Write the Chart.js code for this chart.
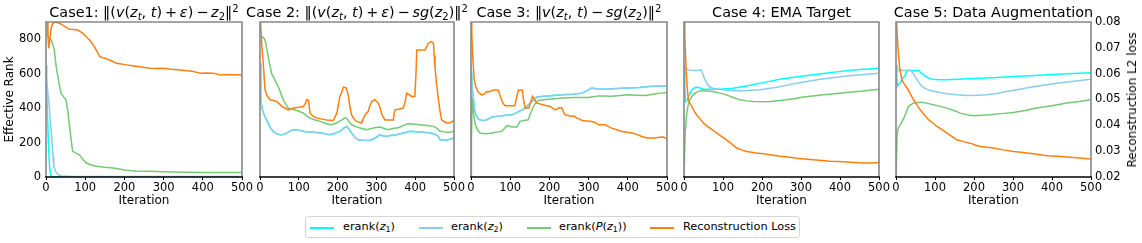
<!DOCTYPE html>
<html>
<head>
<meta charset="utf-8">
<script src="https://cdn.jsdelivr.net/npm/chart.js@4.4.1/dist/chart.umd.min.js"></script>
<style>
  body { margin: 0; background: #fff; font-family: "DejaVu Sans", sans-serif; color: #000; }
  #wrap { position: relative; width: 1142px; height: 243px; overflow: hidden; }
  #wrap canvas { position: absolute; top: 0; }
  .ttl { position: absolute; top: 4px; white-space: nowrap; font-size: 14.4px; line-height: 17px; transform: translateX(-50%); }
  .ttl .op { margin: 0 0.2em; }
  sub, sup { font-size: 70%; line-height: 0; position: relative; vertical-align: baseline; }
  sub { top: 0.3em; }
  sup { top: -0.5em; }
  #rlab { position: absolute; left: 1132px; top: 100px; font-size: 12px; white-space: nowrap; transform: translate(-50%, -50%) rotate(-90deg); }
  #legend { position: absolute; left: 305px; top: 216px; width: 495px; height: 22px; box-sizing: border-box; border: 1px solid #d6d6d6; border-radius: 3px; font-size: 11.3px; }
  #legend .h { position: absolute; top: 10px; width: 24px; height: 1.5px; }
  #legend .t { position: absolute; top: 3px; white-space: nowrap; line-height: 14px; }
</style>
</head>
<body>
<div id="wrap"></div>
<script>
// iteration / value pairs
// Case 1
var c1_z1 = [[0,650],[3,420],[6,200],[9,60],[12,10],[16,2],[30,1],[100,1],[500,1]];
var c1_z2 = [[0,650],[2,560],[4,506],[7,440],[9,390],[12,300],[15,216],[18,120],[20,62],[25,30],[30,14],[40,6],[60,4],[100,3],[300,3],[500,3]];
var c1_pz1 = [[0,834],[5,820],[10,805],[13,796],[17,770],[21,738],[26,641],[32,560],[38,487],[45,465],[51,448],[56,380],[60,294],[64,220],[68,149],[75,140],[85,129],[95,100],[103,81],[115,70],[128,62],[150,56],[171,52],[190,45],[205,39],[230,35],[265,33],[300,30],[359,27],[400,26],[450,26],[500,26]];
var c1_loss = [[0,0.085],[3,0.080],[5,0.0745],[7,0.0698],[10,0.0735],[13,0.0775],[17,0.0795],[22,0.0800],[30,0.0797],[37,0.0793],[43,0.0788],[50,0.0780],[60,0.0772],[70,0.0771],[81,0.0769],[88,0.0763],[94,0.0756],[103,0.0743],[111,0.0730],[120,0.0712],[128,0.0692],[133,0.0678],[137,0.0666],[150,0.0660],[162,0.0653],[171,0.0647],[180,0.0640],[192,0.0637],[205,0.0634],[220,0.0631],[239,0.0627],[252,0.0624],[265,0.0621],[282,0.0620],[299,0.0621],[320,0.0617],[342,0.0614],[360,0.0611],[376,0.0608],[385,0.0605],[393,0.0602],[410,0.0603],[427,0.0602],[444,0.0595],[460,0.0597],[480,0.0596],[500,0.0595]];

// Case 2
var c2_z1 = [[0,660],[2,448],[5,400],[9,371],[15,340],[21,313],[27,285],[34,265],[42,252],[52,245],[60,247],[69,255],[78,266],[86,274],[95,273],[103,270],[115,264],[129,261],[145,258],[159,255],[170,250],[180,245],[192,253],[206,265],[215,282],[223,294],[229,280],[236,255],[244,232],[253,216],[265,213],[284,212],[296,225],[309,245],[318,238],[326,236],[340,242],[352,245],[370,255],[387,265],[410,262],[430,259],[445,252],[455,245],[460,232],[464,216],[475,214],[485,216],[495,222],[500,226]];
var c2_z2 = [[0,660],[2,448],[5,400],[9,371],[15,340],[21,313],[27,285],[34,265],[42,252],[52,245],[60,247],[69,255],[78,266],[86,274],[95,273],[103,270],[115,264],[129,261],[145,258],[159,255],[170,250],[180,245],[192,253],[206,265],[215,282],[223,294],[229,280],[236,255],[244,232],[253,216],[265,213],[284,212],[296,225],[309,245],[318,238],[326,236],[340,242],[352,245],[370,255],[387,265],[410,262],[430,259],[445,252],[455,245],[460,232],[464,216],[475,214],[485,216],[495,222],[500,226]];
var c2_pz1 = [[0,825],[5,815],[10,805],[13,796],[18,740],[22,690],[26,641],[30,600],[34,583],[40,555],[47,525],[53,490],[60,448],[66,425],[73,400],[80,393],[90,390],[100,382],[112,371],[120,355],[129,342],[140,332],[155,323],[165,315],[180,303],[190,308],[198,313],[210,330],[219,342],[223,342],[230,320],[236,303],[245,295],[258,284],[275,274],[285,280],[292,284],[300,288],[309,290],[320,282],[331,274],[340,280],[348,284],[355,285],[361,290],[370,300],[382,309],[400,306],[412,303],[430,299],[447,294],[455,285],[464,265],[475,262],[485,259],[495,263],[500,268]];
var c2_loss = [[0,0.085],[3,0.075],[6,0.068],[9,0.0628],[11,0.058],[13,0.0537],[18,0.0515],[26,0.0499],[35,0.0496],[43,0.0492],[50,0.0483],[56,0.0473],[65,0.0466],[73,0.0460],[80,0.0463],[86,0.0467],[100,0.0470],[112,0.0473],[117,0.0485],[120,0.0499],[125,0.0497],[129,0.0447],[137,0.0436],[146,0.0428],[160,0.0424],[172,0.0421],[189,0.0419],[198,0.0447],[202,0.0480],[206,0.0512],[211,0.0530],[215,0.0548],[222,0.0545],[228,0.0512],[232,0.0470],[236,0.0441],[242,0.0425],[249,0.0415],[262,0.0409],[266,0.0425],[271,0.0441],[279,0.0454],[283,0.0475],[288,0.0492],[296,0.0499],[305,0.0486],[310,0.0465],[314,0.0441],[322,0.0421],[335,0.0421],[344,0.0421],[346,0.0450],[348,0.0460],[360,0.0463],[369,0.0467],[374,0.0490],[378,0.0524],[385,0.0518],[391,0.0512],[399,0.0512],[402,0.0600],[404,0.0692],[415,0.0692],[425,0.0692],[430,0.0705],[434,0.0718],[442,0.0724],[447,0.0718],[449,0.0670],[451,0.0628],[455,0.0560],[460,0.0499],[464,0.0455],[468,0.0421],[477,0.0412],[485,0.0409],[493,0.0412],[500,0.0421]];

// Case 3
var c3_z1 = [[0,651],[4,500],[9,390],[14,355],[19,336],[27,330],[36,328],[45,338],[53,348],[65,352],[78,355],[90,358],[104,361],[112,368],[121,380],[130,390],[138,400],[146,418],[155,438],[162,452],[168,464],[180,467],[198,471],[215,474],[232,477],[260,481],[283,487],[295,500],[308,516],[320,513],[334,510],[360,513],[385,516],[410,518],[430,520],[453,525],[475,527],[500,529]];
var c3_z2 = [[0,651],[4,500],[9,390],[14,355],[19,336],[27,330],[36,328],[45,338],[53,348],[65,352],[78,355],[90,358],[104,361],[112,368],[121,380],[130,390],[138,400],[146,418],[155,438],[162,452],[168,464],[180,467],[198,471],[215,474],[232,477],[260,481],[283,487],[295,500],[308,516],[320,513],[334,510],[360,513],[385,516],[410,518],[430,520],[453,525],[475,527],[500,529]];
var c3_pz1 = [[0,0],[1,200],[3,458],[6,380],[10,313],[15,280],[23,255],[36,251],[50,254],[61,259],[70,262],[78,265],[85,280],[91,297],[97,296],[104,290],[117,290],[121,305],[125,323],[135,328],[146,332],[152,370],[159,409],[165,430],[172,444],[185,448],[198,452],[215,455],[232,458],[250,460],[266,462],[283,462],[300,462],[312,466],[325,471],[340,470],[359,469],[380,473],[402,477],[420,475],[445,473],[458,478],[470,483],[485,487],[500,491]];
var c3_loss = [[0,0.085],[2,0.075],[5,0.065],[8,0.058],[12,0.0550],[18,0.0530],[27,0.0518],[33,0.0520],[40,0.0531],[48,0.0530],[57,0.0537],[65,0.0537],[70,0.0535],[74,0.0515],[78,0.0499],[82,0.0485],[87,0.0476],[100,0.0476],[112,0.0476],[116,0.0505],[121,0.0537],[131,0.0537],[134,0.0500],[138,0.0467],[148,0.0467],[152,0.0490],[157,0.0512],[162,0.0500],[168,0.0486],[175,0.0483],[185,0.0479],[202,0.0473],[210,0.0465],[215,0.0460],[225,0.0468],[232,0.0467],[236,0.0452],[240,0.0441],[257,0.0434],[262,0.0437],[270,0.0428],[276,0.0425],[283,0.0419],[295,0.0417],[308,0.0415],[318,0.0410],[325,0.0402],[342,0.0402],[350,0.0396],[359,0.0389],[372,0.0383],[385,0.0376],[398,0.0373],[411,0.0370],[424,0.0364],[436,0.0357],[449,0.0351],[470,0.0351],[480,0.0354],[491,0.0355],[500,0.0347]];

// Case 4
var c4_z1 = [[0,651],[2,520],[4,438],[9,448],[14,480],[20,506],[26,516],[32,521],[40,518],[50,510],[70,510],[92,510],[126,516],[161,529],[203,548],[246,568],[306,587],[374,606],[434,622],[500,632]];
var c4_z2 = [[0,651],[3,630],[11,622],[20,620],[32,618],[38,620],[43,622],[48,600],[54,564],[60,540],[67,521],[77,514],[88,510],[100,506],[118,502],[140,501],[161,502],[195,506],[238,521],[289,545],[349,568],[417,587],[500,603]];
var c4_pz1 = [[0,0],[3,255],[7,371],[11,420],[15,448],[21,470],[28,487],[36,496],[45,502],[60,500],[75,496],[92,487],[109,477],[126,462],[144,448],[160,442],[178,438],[200,437],[221,438],[242,443],[263,448],[285,456],[306,464],[330,470],[357,477],[387,484],[417,491],[460,500],[500,510]];
var c4_loss = [[0,0.085],[2,0.075],[5,0.0628],[8,0.055],[11,0.0499],[15,0.0485],[20,0.0473],[26,0.0455],[32,0.0441],[41,0.0425],[50,0.0409],[58,0.0398],[67,0.0389],[75,0.0380],[84,0.0370],[96,0.0357],[109,0.0344],[122,0.0328],[135,0.0312],[148,0.0305],[161,0.0299],[173,0.0296],[186,0.0293],[203,0.0290],[221,0.0286],[233,0.0283],[246,0.0280],[267,0.0277],[289,0.0273],[310,0.0270],[332,0.0267],[353,0.0264],[374,0.0261],[396,0.0260],[417,0.0258],[438,0.0256],[460,0.0254],[480,0.0254],[500,0.0256]];

// Case 5
var c5_z1 = [[0,651],[2,580],[4,529],[10,545],[15,564],[20,580],[24,593],[28,618],[40,618],[58,618],[64,606],[71,593],[78,582],[84,574],[95,568],[113,564],[130,565],[156,568],[186,571],[216,574],[260,578],[301,583],[345,588],[387,593],[440,599],[500,606]];
var c5_z2 = [[0,651],[4,625],[7,618],[20,618],[37,618],[45,600],[54,564],[60,545],[67,525],[77,512],[88,502],[110,492],[131,483],[156,477],[182,473],[208,474],[233,477],[258,485],[284,496],[314,508],[344,521],[378,533],[412,545],[456,556],[500,568]];
var c5_pz1 = [[0,0],[3,255],[7,290],[11,303],[15,320],[20,342],[26,375],[32,409],[38,420],[45,429],[58,432],[71,433],[84,426],[96,419],[113,410],[131,400],[148,386],[165,371],[182,362],[199,355],[220,358],[241,361],[271,368],[301,375],[331,386],[361,400],[400,414],[438,429],[470,438],[500,448]];
var c5_loss = [[0,0.085],[3,0.075],[6,0.068],[9,0.0628],[12,0.060],[15,0.0576],[23,0.0556],[32,0.0537],[38,0.0518],[45,0.0499],[53,0.0480],[62,0.0460],[73,0.0440],[84,0.0421],[95,0.0408],[105,0.0396],[118,0.0383],[131,0.0370],[143,0.0357],[156,0.0344],[173,0.0337],[190,0.0331],[203,0.0324],[216,0.0318],[233,0.0315],[250,0.0312],[275,0.0305],[301,0.0299],[326,0.0295],[352,0.0290],[370,0.0286],[387,0.0282],[412,0.0280],[438,0.0277],[470,0.0274],[500,0.0270]];

var titles = [
  'Case1: ‖(<i>v</i>(<i>z</i><sub><i>t</i></sub>, <i>t</i>)<span class="op">+</span><i>ε</i>)<span class="op">−</span><i>z</i><sub>2</sub>‖<sup>2</sup>',
  'Case 2: ‖(<i>v</i>(<i>z</i><sub><i>t</i></sub>, <i>t</i>)<span class="op">+</span><i>ε</i>)<span class="op">−</span><i>sg</i>(<i>z</i><sub>2</sub>)‖<sup>2</sup>',
  'Case 3: ‖<i>v</i>(<i>z</i><sub><i>t</i></sub>, <i>t</i>)<span class="op">−</span><i>sg</i>(<i>z</i><sub>2</sub>)‖<sup>2</sup>',
  'Case 4: EMA Target',
  'Case 5: Data Augmentation'
];
var seriesNames = ['erank(z1)', 'erank(z2)', 'erank(P(z1))', 'Reconstruction Loss'];
var legendHtml = ['erank(<i>z</i><sub>1</sub>)', 'erank(<i>z</i><sub>2</sub>)', 'erank(<i>P</i>(<i>z</i><sub>1</sub>))', 'Reconstruction Loss'];
var seriesColors = ['#00ffff', '#87ceeb', '#74c974', '#ff7f0e'];

var panels = [
  [c1_z1, c1_z2, c1_pz1, c1_loss],
  [c2_z1, c2_z2, c2_pz1, c2_loss],
  [c3_z1, c3_z2, c3_pz1, c3_loss],
  [c4_z1, c4_z2, c4_pz1, c4_loss],
  [c5_z1, c5_z2, c5_pz1, c5_loss]
];

// plot area left/right edge of each panel in the page
var boxes = [[46, 242], [260, 454], [471, 667], [684, 879], [896, 1091]];

Chart.defaults.font.family = '"DejaVu Sans", sans-serif';
Chart.defaults.color = '#000';

var frame = {
  id: 'frame',
  afterDatasetsDraw: function(chart) {
    var a = chart.chartArea, c = chart.ctx;
    c.save();
    c.strokeStyle = '#888';
    c.lineWidth = 1.6;
    c.beginPath();
    c.moveTo(a.left, a.bottom);
    c.lineTo(a.left, a.top);
    c.lineTo(a.right, a.top);
    c.lineTo(a.right, a.bottom);
    c.stroke();
    c.strokeStyle = '#000';
    c.lineWidth = 1.3;
    c.beginPath();
    c.moveTo(a.left - 0.8, a.bottom);
    c.lineTo(a.right + 0.8, a.bottom);
    c.stroke();
    c.restore();
  }
};

var wrap = document.getElementById('wrap');

panels.forEach(function(series, i) {
  var L = boxes[i][0], R = boxes[i][1];
  var first = i === 0, last = i === 4;
  var padL = first ? 0 : 12, padR = last ? 0 : 14;
  var left = first ? 0 : L - padL;
  var width = last ? 1142 - left : R + padR - left;

  var cv = document.createElement('canvas');
  cv.width = width; cv.height = 210;
  cv.style.left = left + 'px';
  cv.style.width = width + 'px'; cv.style.height = '210px';
  wrap.appendChild(cv);

  // loss first so it sits on top, then green, blue, cyan
  var datasets = [3, 2, 1, 0].map(function(k) {
    return {
      label: seriesNames[k],
      data: series[k],
      yAxisID: k === 3 ? 'y1' : 'y',
      borderColor: seriesColors[k],
      borderWidth: 1.5,
      pointRadius: 0,
      tension: 0
    };
  });

  new Chart(cv, {
    type: 'line',
    data: { datasets: datasets },
    options: {
      responsive: false,
      animation: false,
      layout: { padding: { left: padL, right: padR, top: 22, bottom: 0 } },
      plugins: { legend: { display: false }, tooltip: { enabled: false } },
      scales: {
        x: {
          type: 'linear', min: 0, max: 500,
          ticks: { stepSize: 100, font: { size: 11.5 }, padding: 1, maxRotation: 0 },
          grid: { display: true, drawOnChartArea: false, drawTicks: true, tickLength: 3, color: '#000' },
          border: { display: false },
          title: { display: true, text: 'Iteration', font: { size: 12 }, padding: { top: 0, bottom: 2 } },
          afterFit: function(s) { s.height = 33; }
        },
        y: {
          display: first, min: 0, max: 900,
          ticks: { stepSize: 200, includeBounds: false, font: { size: 11.5 }, padding: 5 },
          grid: { display: false, drawTicks: false },
          border: { display: false },
          title: { display: true, text: 'Effective Rank', font: { size: 12 }, padding: { top: 3, bottom: 0 } },
          afterFit: function(s) { s.width = first ? 46 : 0; }
        },
        y1: {
          display: last, position: 'right', min: 0.02, max: 0.08,
          ticks: { stepSize: 0.01, includeBounds: false, font: { size: 11.5 }, padding: 4,
                   callback: function(v) { return v.toFixed(2); } },
          grid: { display: false, drawTicks: false },
          border: { display: false },
          afterFit: function(s) { s.width = last ? 51 : 0; }
        }
      }
    },
    plugins: [frame]
  });

  var t = document.createElement('div');
  t.className = 'ttl';
  t.style.left = ((L + R) / 2) + 'px';
  t.innerHTML = titles[i];
  wrap.appendChild(t);
});

var rl = document.createElement('div');
rl.id = 'rlab';
rl.textContent = 'Reconstruction L2 loss';
wrap.appendChild(rl);

// legend
var lg = document.createElement('div');
lg.id = 'legend';
var handleX = [4, 113, 221, 344];
var textX = [37, 145, 253, 377];
seriesNames.forEach(function(name, k) {
  var h = document.createElement('div');
  h.className = 'h';
  h.style.left = handleX[k] + 'px';
  h.style.background = seriesColors[k];
  lg.appendChild(h);
  var tx = document.createElement('div');
  tx.className = 't';
  tx.style.left = textX[k] + 'px';
  tx.innerHTML = legendHtml[k];
  lg.appendChild(tx);
});
wrap.appendChild(lg);
</script>
</body>
</html>
